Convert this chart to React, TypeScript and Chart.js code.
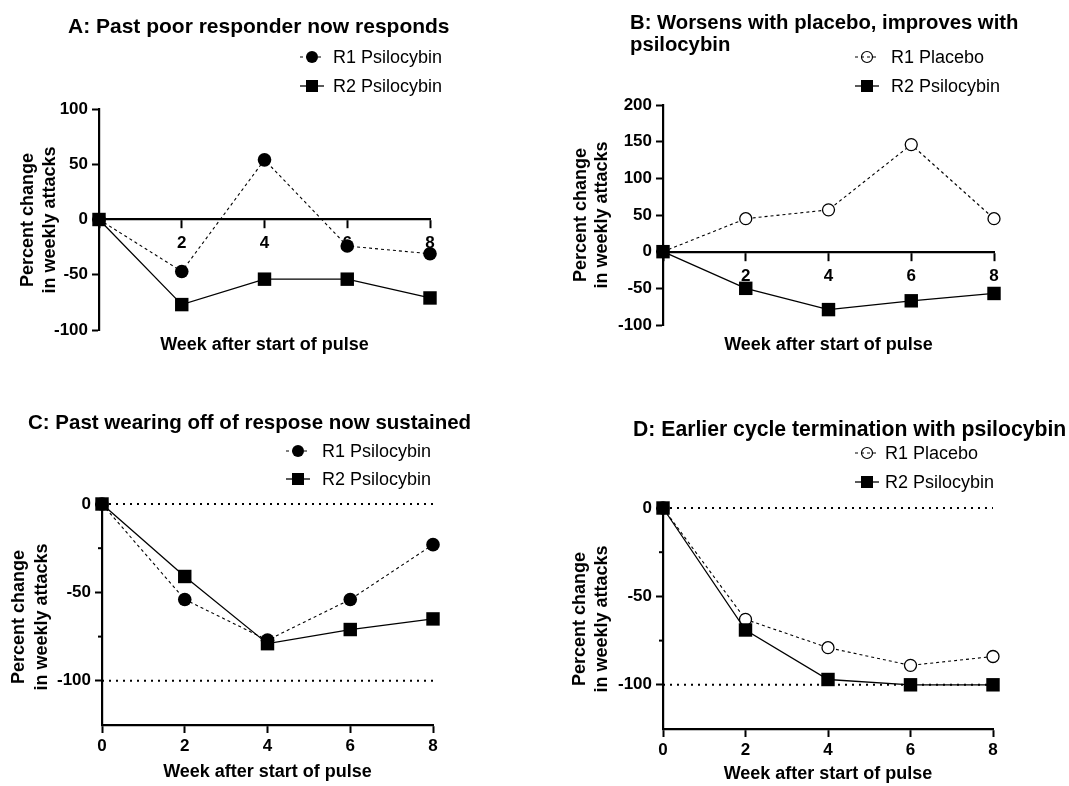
import React, { useEffect, useRef } from "react";
import { Chart, registerables } from "chart.js";

Chart.register(...registerables);

// ---------- data ----------
const weeks = [0, 2, 4, 6, 8];
const xTickValues = [0, 2, 4, 6, 8];
const xAxisTitle = "Week after start of pulse";
const yAxisTitle = ["Percent change", "in weekly attacks"];

const titleA = ["A: Past poor responder now responds"];
const labelA1 = "R1 Psilocybin";
const valuesA1 = [0, -47, 54, -24, -31];
const labelA2 = "R2 Psilocybin";
const valuesA2 = [0, -77, -54, -54, -71];
const yTicksA = [-100, -50, 0, 50, 100];

const titleB = ["B: Worsens with placebo, improves with", "psilocybin"];
const labelB1 = "R1 Placebo";
const valuesB1 = [0, 45, 57, 146, 45];
const labelB2 = "R2 Psilocybin";
const valuesB2 = [0, -50, -79, -67, -57];
const yTicksB = [-100, -50, 0, 50, 100, 150, 200];

const titleC = ["C: Past wearing off of respose now sustained"];
const labelC1 = "R1 Psilocybin";
const valuesC1 = [0, -54, -77, -54, -23];
const labelC2 = "R2 Psilocybin";
const valuesC2 = [0, -41, -79, -71, -65];
const yTicksC = [-100, -50, 0];
const yMinorTicksC = [-75, -25];
const refLinesC = [0, -100];

const titleD = ["D: Earlier cycle termination with psilocybin"];
const labelD1 = "R1 Placebo";
const valuesD1 = [0, -63, -79, -89, -84];
const labelD2 = "R2 Psilocybin";
const valuesD2 = [0, -69, -97, -100, -100];
const yTicksD = [-100, -50, 0];
const yMinorTicksD = [-75, -25];
const refLinesD = [0, -100];

// ---------- styling / layout ----------
const FONT = '"Liberation Sans", Arial, Helvetica, sans-serif';
const X_AXIS_H = 40;

type Kind = "r1fill" | "r1open" | "r2";
type Series = { label: string; values: number[]; kind: Kind };
type Spec = {
  key: string;
  left: number; top: number; width: number; height: number;
  area: { left: number; top: number; right: number; bottom: number };
  xAxisAtZero: boolean;
  yMin: number; yMax: number;
  yTicks: number[];
  yMinorTicks: number[];
  refLines: number[];
  title: string[]; titleX: number; titleY: number[]; titleSize: number;
  series: Series[];
  legend: { cx: number; textX: number; ys: number[] };
  xTitleY: number;
  yTitle: { x1: number; x2: number; yc: number };
};

const specs: Spec[] = [
  {
    key: "A", left: 0, top: 0, width: 535, height: 393,
    area: { left: 99, top: 109, right: 430, bottom: 330 },
    xAxisAtZero: true, yMin: -100, yMax: 100, yTicks: yTicksA, yMinorTicks: [], refLines: [],
    title: titleA, titleX: 68, titleY: [33], titleSize: 21,
    series: [
      { label: labelA1, values: valuesA1, kind: "r1fill" },
      { label: labelA2, values: valuesA2, kind: "r2" },
    ],
    legend: { cx: 312, textX: 333, ys: [57, 86] },
    xTitleY: 345,
    yTitle: { x1: 28, x2: 50, yc: 220 },
  },
  {
    key: "B", left: 535, top: 0, width: 534, height: 393,
    area: { left: 663, top: 105, right: 994, bottom: 325 },
    xAxisAtZero: true, yMin: -100, yMax: 200, yTicks: yTicksB, yMinorTicks: [], refLines: [],
    title: titleB, titleX: 630, titleY: [29, 51], titleSize: 20.3,
    series: [
      { label: labelB1, values: valuesB1, kind: "r1open" },
      { label: labelB2, values: valuesB2, kind: "r2" },
    ],
    legend: { cx: 867, textX: 891, ys: [57, 86] },
    xTitleY: 345,
    yTitle: { x1: 581, x2: 602, yc: 215 },
  },
  {
    key: "C", left: 0, top: 393, width: 535, height: 393,
    area: { left: 102, top: 504, right: 433, bottom: 725 },
    xAxisAtZero: false, yMin: -125, yMax: 0, yTicks: yTicksC, yMinorTicks: yMinorTicksC, refLines: refLinesC,
    title: titleC, titleX: 28, titleY: [429], titleSize: 20.5,
    series: [
      { label: labelC1, values: valuesC1, kind: "r1fill" },
      { label: labelC2, values: valuesC2, kind: "r2" },
    ],
    legend: { cx: 298, textX: 322, ys: [451, 479] },
    xTitleY: 772,
    yTitle: { x1: 19, x2: 42, yc: 617 },
  },
  {
    key: "D", left: 535, top: 393, width: 534, height: 393,
    area: { left: 663, top: 508, right: 993, bottom: 729 },
    xAxisAtZero: false, yMin: -125, yMax: 0, yTicks: yTicksD, yMinorTicks: yMinorTicksD, refLines: refLinesD,
    title: titleD, titleX: 633, titleY: [436], titleSize: 21.2,
    series: [
      { label: labelD1, values: valuesD1, kind: "r1open" },
      { label: labelD2, values: valuesD2, kind: "r2" },
    ],
    legend: { cx: 867, textX: 885, ys: [453, 482] },
    xTitleY: 774,
    yTitle: { x1: 580, x2: 602, yc: 619 },
  },
];

function seriesStyle(kind: Kind) {
  if (kind === "r2") {
    return {
      borderColor: "#000", borderWidth: 1.3, borderDash: [] as number[],
      pointStyle: "rect", pointRadius: 9.5, pointBackgroundColor: "#000",
      pointBorderColor: "#000", pointBorderWidth: 0, order: 0,
    };
  }
  if (kind === "r1open") {
    return {
      borderColor: "#000", borderWidth: 1.1, borderDash: [3, 3],
      pointStyle: "circle", pointRadius: 6, pointBackgroundColor: "#fff",
      pointBorderColor: "#000", pointBorderWidth: 1.3, order: 1,
    };
  }
  return {
    borderColor: "#000", borderWidth: 1.1, borderDash: [3, 3],
    pointStyle: "circle", pointRadius: 6.8, pointBackgroundColor: "#000",
    pointBorderColor: "#000", pointBorderWidth: 0, order: 1,
  };
}

function drawLegendMarker(ctx: CanvasRenderingContext2D, kind: Kind, cx: number, cy: number) {
  const st = seriesStyle(kind);
  ctx.save();
  ctx.strokeStyle = "#000";
  ctx.lineWidth = st.borderWidth;
  ctx.setLineDash(st.borderDash);
  ctx.beginPath();
  ctx.moveTo(cx - 12, cy);
  ctx.lineTo(cx + 12, cy);
  ctx.stroke();
  ctx.setLineDash([]);
  if (kind === "r2") {
    ctx.fillStyle = "#000";
    ctx.fillRect(cx - 6, cy - 6, 12, 12);
  } else if (kind === "r1open") {
    ctx.beginPath();
    ctx.arc(cx, cy, 5.5, 0, Math.PI * 2);
    ctx.lineWidth = 1.2;
    ctx.stroke();
  } else {
    ctx.beginPath();
    ctx.arc(cx, cy, 6, 0, Math.PI * 2);
    ctx.fillStyle = "#000";
    ctx.fill();
  }
  ctx.restore();
}

function makeConfig(spec: Spec): any {
  const L = spec.area.left - spec.left;
  const T = spec.area.top - spec.top;
  const R = spec.left + spec.width - spec.area.right;
  const B = spec.top + spec.height - spec.area.bottom;

  const datasets: any[] = spec.series.map((s) => {
    const st = seriesStyle(s.kind);
    return {
      label: s.label,
      data: weeks.map((w, i) => ({ x: w, y: s.values[i] })),
      ...st,
      pointHoverRadius: st.pointRadius,
      fill: false,
      tension: 0,
      clip: false,
    };
  });
  spec.refLines.forEach((v) => {
    datasets.push({
      label: "ref",
      data: [{ x: xTickValues[0], y: v }, { x: xTickValues[xTickValues.length - 1], y: v }],
      borderColor: "#000", borderWidth: 2, borderDash: [2, 5],
      pointRadius: 0, fill: false, order: 5, clip: false,
    });
  });

  const textPlugin = {
    id: "panelText" + spec.key,
    afterDraw(chart: any) {
      const ctx: CanvasRenderingContext2D = chart.ctx;
      const ox = spec.left;
      const oy = spec.top;
      ctx.save();
      ctx.fillStyle = "#000";
      // minor ticks
      const ys = chart.scales.y;
      spec.yMinorTicks.forEach((v) => {
        const py = ys.getPixelForValue(v);
        ctx.strokeStyle = "#000";
        ctx.lineWidth = 2;
        ctx.beginPath();
        ctx.moveTo(chart.chartArea.left - 4, py);
        ctx.lineTo(chart.chartArea.left, py);
        ctx.stroke();
      });
      // title
      ctx.font = `bold ${spec.titleSize}px ${FONT}`;
      ctx.textAlign = "left";
      ctx.textBaseline = "alphabetic";
      spec.title.forEach((line, i) => ctx.fillText(line, spec.titleX - ox, spec.titleY[i] - oy));
      // legend
      ctx.font = `18px ${FONT}`;
      ctx.textBaseline = "middle";
      spec.series.forEach((s, i) => {
        const y = spec.legend.ys[i] - oy;
        drawLegendMarker(ctx, s.kind, spec.legend.cx - ox, y);
        ctx.fillStyle = "#000";
        ctx.fillText(s.label, spec.legend.textX - ox, y + 1);
      });
      // x title
      ctx.font = `bold 18px ${FONT}`;
      ctx.textAlign = "center";
      ctx.textBaseline = "middle";
      const xc = (chart.chartArea.left + chart.chartArea.right) / 2;
      ctx.fillText(xAxisTitle, xc, spec.xTitleY - oy);
      // y title
      const xs = [spec.yTitle.x1, spec.yTitle.x2];
      yAxisTitle.forEach((line, i) => {
        ctx.save();
        ctx.translate(xs[i] - ox, spec.yTitle.yc - oy);
        ctx.rotate(-Math.PI / 2);
        ctx.fillText(line, 0, 0);
        ctx.restore();
      });
      ctx.restore();
    },
  };

  const tickFont = { family: FONT, size: 17, weight: "bold" as const };

  return {
    type: "line",
    data: { datasets },
    options: {
      animation: false,
      responsive: false,
      maintainAspectRatio: false,
      events: [],
      layout: {
        padding: { left: 0, top: T, right: R, bottom: spec.xAxisAtZero ? B : B - X_AXIS_H },
      },
      plugins: {
        legend: { display: false },
        title: { display: false },
        tooltip: { enabled: false },
      },
      scales: {
        x: {
          type: "linear",
          min: xTickValues[0],
          max: xTickValues[xTickValues.length - 1],
          position: spec.xAxisAtZero ? { y: 0 } : "bottom",
          afterBuildTicks: (s: any) => {
            s.ticks = xTickValues.map((v) => ({ value: v }));
          },
          afterFit: (s: any) => {
            if (!spec.xAxisAtZero) s.height = X_AXIS_H;
          },
          grid: {
            display: true, drawOnChartArea: false, drawTicks: true,
            tickLength: 8, tickWidth: 2, tickColor: "#000", color: "#000",
          },
          border: { display: true, color: "#000", width: 2.2 },
          ticks: {
            color: "#000", font: tickFont, padding: spec.xAxisAtZero ? 6 : 3,
            maxRotation: 0, autoSkip: false,
            callback: (v: any) => (spec.xAxisAtZero && Number(v) === 0 ? "" : String(v)),
          },
        },
        y: {
          type: "linear",
          min: spec.yMin,
          max: spec.yMax,
          position: "left",
          afterBuildTicks: (s: any) => {
            s.ticks = spec.yTicks.map((v) => ({ value: v }));
          },
          afterFit: (s: any) => {
            s.width = L;
          },
          grid: {
            display: true, drawOnChartArea: false, drawTicks: true,
            tickLength: 7, tickWidth: 2, tickColor: "#000", color: "#000",
          },
          border: { display: true, color: "#000", width: 2.2 },
          ticks: {
            color: "#000", font: tickFont, padding: 4, autoSkip: false,
            callback: (v: any) => String(v),
          },
        },
      },
    },
    plugins: [textPlugin],
  };
}

function Panel({ spec }: { spec: Spec }) {
  const ref = useRef<HTMLCanvasElement | null>(null);
  useEffect(() => {
    if (!ref.current) return;
    const chart = new Chart(ref.current, makeConfig(spec));
    return () => chart.destroy();
  }, [spec]);
  return (
    <canvas
      ref={ref}
      width={spec.width}
      height={spec.height}
      style={{ position: "absolute", left: spec.left, top: spec.top, width: spec.width, height: spec.height }}
    />
  );
}

export default function App() {
  return (
    <div style={{ position: "fixed", left: 0, top: 0, width: 1069, height: 786, background: "#fff", overflow: "hidden" }}>
      {specs.map((s) => (
        <Panel key={s.key} spec={s} />
      ))}
    </div>
  );
}
